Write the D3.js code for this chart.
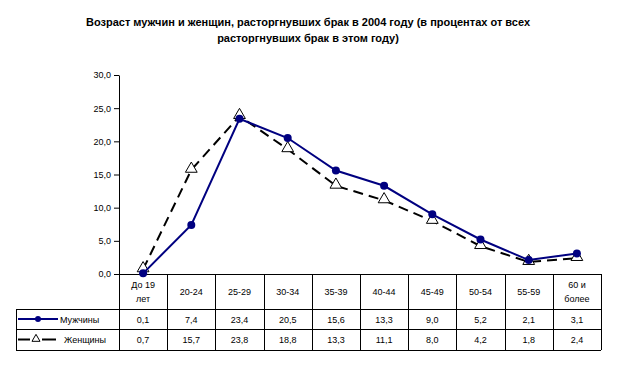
<!DOCTYPE html>
<html><head><meta charset="utf-8">
<script src="https://cdn.jsdelivr.net/npm/d3@7"></script>
<style>body{margin:0;background:#fff}svg{display:block}text{font-family:Arial,"Liberation Sans",sans-serif}</style>
</head><body>
<script>
const categories = [["До 19","лет"],["20-24"],["25-29"],["30-34"],["35-39"],["40-44"],["45-49"],["50-54"],["55-59"],["60 и","более"]];
const men = [0.1, 7.4, 23.4, 20.5, 15.6, 13.3, 9.0, 5.2, 2.1, 3.1];
const women = [0.7, 15.7, 23.8, 18.8, 13.3, 11.1, 8.0, 4.2, 1.8, 2.4];
const seriesNames = ["Мужчины", "Женщины"];
const yTicks = [0, 5, 10, 15, 20, 25, 30];
const titleLines = ["Возраст мужчин и женщин, расторгнувших брак в 2004 году (в процентах от всех", "расторгнувших брак в этом году)"];

const W = 617, H = 367;
const svg = d3.select("body").append("svg").attr("width", W).attr("height", H);
const fmt = v => v.toFixed(1).replace(".", ",");

svg.selectAll("text.title").data(titleLines).join("text")
  .attr("x", 308).attr("y", (d, i) => 26 + i * 16).attr("text-anchor", "middle")
  .attr("font-size", 11).attr("font-weight", "bold").attr("fill", "#000").text(d => d);

const x0 = 119, x1 = 601, yTop = 75, yBot = 274;
const x = d3.scaleBand().domain(d3.range(categories.length)).range([x0, x1]);
const y = d3.scaleLinear().domain([0, 30]).range([yBot, yTop]);

const yAxis = svg.append("g").attr("transform", `translate(${x0},0)`)
  .call(d3.axisLeft(y).tickValues(yTicks).tickFormat(fmt).tickSize(5).tickSizeOuter(0));
yAxis.select(".domain").attr("stroke", "#000");
yAxis.selectAll("line").attr("stroke", "#000");
yAxis.selectAll("text").attr("font-size", 9).attr("fill", "#000").attr("font-family", "Arial,'Liberation Sans',sans-serif");

// table
const rowH = [274, 309, 329, 350];
const tLeft = 16;
const g = svg.append("g").attr("stroke", "#000").attr("stroke-width", 1).attr("shape-rendering", "crispEdges");
g.append("line").attr("x1", x0).attr("x2", x1).attr("y1", yBot + 0.5).attr("y2", yBot + 0.5);
[rowH[1], rowH[2], rowH[3]].forEach(yy => g.append("line").attr("x1", tLeft).attr("x2", x1).attr("y1", yy + 0.5).attr("y2", yy + 0.5));
d3.range(categories.length + 1).forEach(i => {
  const xx = i < categories.length ? x(i) : x1;
  g.append("line").attr("x1", Math.round(xx) + 0.5).attr("x2", Math.round(xx) + 0.5).attr("y1", yBot).attr("y2", rowH[3]);
});
g.append("line").attr("x1", tLeft + 0.5).attr("x2", tLeft + 0.5).attr("y1", rowH[1]).attr("y2", rowH[3]);

categories.forEach((c, i) => {
  const cx = x(i) + x.bandwidth() / 2;
  const cy = (rowH[0] + rowH[1]) / 2;
  c.forEach((s, j) => {
    svg.append("text").attr("x", cx).attr("y", cy + 3 + (j - (c.length - 1) / 2) * 14)
      .attr("text-anchor", "middle").attr("font-size", 9).attr("fill", "#000").text(s);
  });
});
[men, women].forEach((arr, r) => {
  arr.forEach((v, i) => {
    svg.append("text").attr("x", x(i) + x.bandwidth() / 2).attr("y", (rowH[r + 1] + rowH[r + 2]) / 2 + 3.5)
      .attr("text-anchor", "middle").attr("font-size", 9).attr("fill", "#000").text(fmt(v));
  });
});

const line = d3.line().x((d, i) => x(i) + x.bandwidth() / 2).y(d => y(d));
const tri = d3.symbol().type(d3.symbolTriangle).size(60);

// women
svg.append("path").datum(women).attr("d", line).attr("fill", "none").attr("stroke", "#000")
  .attr("stroke-width", 2).attr("stroke-dasharray", "10,6");
svg.selectAll("path.tri").data(women).join("path").attr("class", "tri")
  .attr("d", tri).attr("transform", (d, i) => `translate(${x(i) + x.bandwidth() / 2},${y(d) - 1})`)
  .attr("fill", "#fff").attr("stroke", "#000").attr("stroke-width", 1);
// men
svg.append("path").datum(men).attr("d", line).attr("fill", "none").attr("stroke", "#000080").attr("stroke-width", 2);
svg.selectAll("circle.m").data(men).join("circle").attr("class", "m")
  .attr("cx", (d, i) => x(i) + x.bandwidth() / 2).attr("cy", d => y(d)).attr("r", 4).attr("fill", "#000080");

// legend in table
const ly1 = (rowH[1] + rowH[2]) / 2, ly2 = (rowH[2] + rowH[3]) / 2;
svg.append("line").attr("x1", 18).attr("x2", 58).attr("y1", ly1).attr("y2", ly1).attr("stroke", "#000080").attr("stroke-width", 2);
svg.append("circle").attr("cx", 38).attr("cy", ly1).attr("r", 3).attr("fill", "#000080");
svg.append("text").attr("x", 60).attr("y", ly1 + 3.5).attr("font-size", 9).attr("fill", "#000").text(seriesNames[0]);
svg.append("line").attr("x1", 18).attr("x2", 30).attr("y1", ly2).attr("y2", ly2).attr("stroke", "#000").attr("stroke-width", 2);
svg.append("line").attr("x1", 42).attr("x2", 56).attr("y1", ly2).attr("y2", ly2).attr("stroke", "#000").attr("stroke-width", 2);
svg.append("path").attr("d", d3.symbol().type(d3.symbolTriangle).size(28)).attr("transform", `translate(36,${ly2 - 0.5})`)
  .attr("fill", "#fff").attr("stroke", "#000").attr("stroke-width", 1);
svg.append("text").attr("x", 64).attr("y", ly2 + 3.5).attr("font-size", 9).attr("fill", "#000").text(seriesNames[1]);
</script>
</body></html>
